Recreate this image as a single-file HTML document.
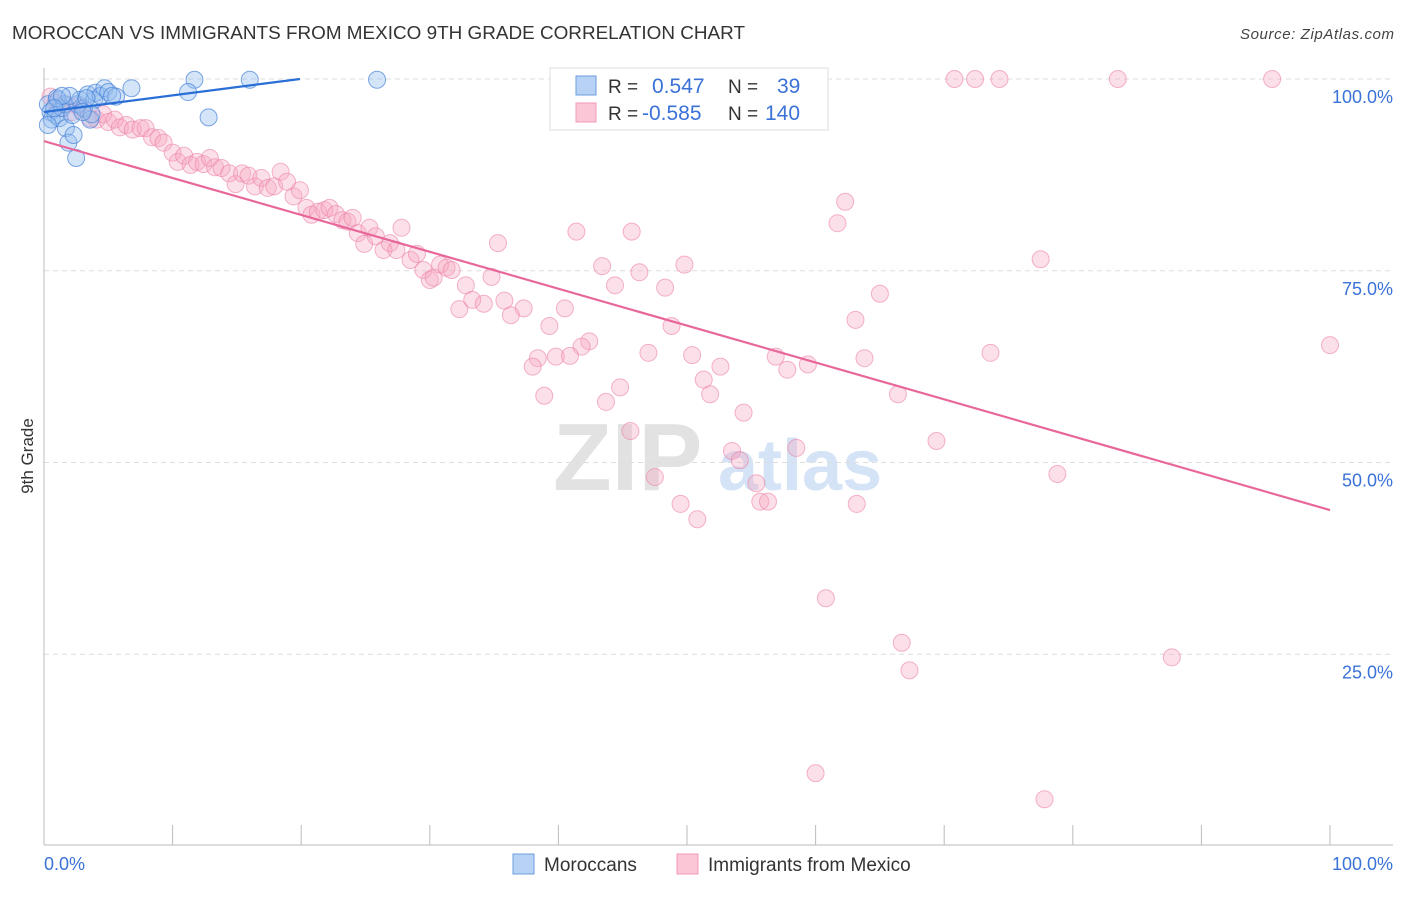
<!DOCTYPE html>
<html><head><meta charset="utf-8"><style>
body{margin:0;background:#fff;font-family:"Liberation Sans",sans-serif;}
svg text{font-family:"Liberation Sans",sans-serif;}
</style></head><body>
<svg id="chart" width="1406" height="892" xmlns="http://www.w3.org/2000/svg">
<text x="12" y="39" font-size="18.5" fill="#333" textLength="733" lengthAdjust="spacingAndGlyphs">MOROCCAN VS IMMIGRANTS FROM MEXICO 9TH GRADE CORRELATION CHART</text>
<text x="1394" y="39" font-size="15" fill="#444" font-style="italic" text-anchor="end" textLength="154">Source: ZipAtlas.com</text>
<g>
<text x="553" y="490" font-size="96" font-family="Liberation Serif" fill="#e2e2e2" font-weight="bold">ZIP</text>
<text x="718" y="490" font-size="72" fill="#d4e3f5" font-weight="bold">atlas</text>
</g>
<g id="grid"></g>
<line x1="44" y1="68" x2="44" y2="845" stroke="#bbb"/>
<line x1="44" y1="845" x2="1393" y2="845" stroke="#bbb"/>
<g id="ticks"></g>
<text transform="translate(33,456) rotate(-90)" font-size="17" fill="#333" text-anchor="middle">9th Grade</text>
<text x="44" y="870" font-size="18" fill="#3a72d8">0.0%</text>
<text x="1393" y="870" font-size="18" fill="#3a72d8" text-anchor="end">100.0%</text>
<g id="pink"></g>
<g id="blue"></g>
<g id="lines"></g>
<g>
<rect x="550" y="68" width="278" height="62" fill="#fff" stroke="#ddd"/>
<rect x="576" y="76" width="20" height="19" fill="#b8d2f5" stroke="#6b9de0"/>
<rect x="576" y="103" width="20" height="19" fill="#fbc6d6" stroke="#f09ab8"/>
<text x="608" y="93" font-size="19" fill="#333">R =</text>
<text x="652" y="93" font-size="21" fill="#3a72d8">0.547</text>
<text x="728" y="93" font-size="19" fill="#333">N =</text>
<text x="777" y="93" font-size="21" fill="#3a72d8">39</text>
<text x="608" y="120" font-size="19" fill="#333">R =</text>
<text x="642" y="120" font-size="21" fill="#3a72d8">-0.585</text>
<text x="728" y="120" font-size="19" fill="#333">N =</text>
<text x="765" y="120" font-size="21" fill="#3a72d8">140</text>
</g>
<g>
<rect x="513" y="854" width="21" height="20" fill="#b8d2f5" stroke="#6b9de0"/>
<text x="544" y="871" font-size="19" fill="#333">Moroccans</text>
<rect x="677" y="854" width="21" height="20" fill="#fbc6d6" stroke="#f09ab8"/>
<text x="708" y="871" font-size="19" fill="#333">Immigrants from Mexico</text>
</g>
</svg>
<script>
const yTicks=[25,50,75,100];
const yTickLabels=["25.0%","50.0%","75.0%","100.0%"];
const xTicks=[10,20,30,40,50,60,70,80,90,100];
const pinkX=[47.5,58.8,70.8,72.4,74.3,83.5,95.5,62.3,61.7,41.4,45.7,35.3,27.8,77.5,43.4,49.8,46.3,34.8,44.4,48.3,65.0,32.8,33.3,34.2,35.8,37.3,32.3,36.3,40.5,39.3,63.1,48.8,42.4,41.8,100,47.0,50.4,38.4,39.8,40.9,38.0,56.9,63.8,73.6,52.6,57.8,59.4,51.3,44.8,51.8,38.9,43.7,66.4,54.4,45.6,69.4,58.5,53.5,54.1,47.5,78.8,55.4,49.5,55.7,56.3,63.2,50.8,60.8,66.7,67.3,87.7,60.0,77.8,
0.5,0.9,1.2,1.7,2.2,2.6,3.1,3.6,4.1,4.6,5.0,5.5,5.9,6.4,6.9,7.5,7.9,8.4,8.9,9.3,10.0,10.4,10.9,11.4,11.9,12.4,12.9,13.3,13.8,14.4,14.9,15.4,15.9,16.4,16.9,17.4,17.9,18.4,18.9,19.4,19.9,20.4,20.8,21.3,21.8,22.2,22.7,23.2,23.6,24.0,24.4,24.9,25.3,25.8,26.4,26.9,27.4,28.5,29.0,29.5,30.0,30.3,30.8,31.3,31.7];
const pinkY=[100,100,100,100,100,100,100,84.0,81.2,80.1,80.1,78.6,80.6,76.5,75.6,75.8,74.8,74.2,73.1,72.8,72.0,73.1,71.2,70.7,71.1,70.1,70.0,69.2,70.1,67.8,68.6,67.8,65.8,65.1,65.3,64.3,64.0,63.6,63.8,63.9,62.5,63.8,63.6,64.3,62.5,62.1,62.8,60.8,59.8,58.9,58.7,57.9,58.9,56.5,54.1,52.8,51.9,51.5,50.3,48.1,48.5,47.3,44.6,44.9,44.9,44.6,42.6,32.3,26.5,22.9,24.6,9.5,6.1,
97.7,96.9,96.2,96.7,95.7,96.5,96.0,94.9,94.7,95.4,94.4,94.7,93.7,94.0,93.4,93.6,93.6,92.4,92.3,91.7,90.4,89.2,90.0,88.8,89.2,88.9,89.7,88.5,88.4,87.7,86.3,87.7,87.4,86.0,87.1,85.8,86.0,87.9,86.6,84.7,85.5,83.2,82.3,82.7,82.9,83.2,82.4,81.6,81.4,81.9,79.9,78.5,80.6,79.5,77.7,78.6,77.7,76.4,77.2,75.1,73.8,74.1,75.8,75.4,75.1];
const blueX=[0.3,0.5,0.6,0.9,1.1,1.2,1.4,1.6,1.7,1.9,2.2,2.3,2.5,2.6,2.8,3.1,3.4,3.6,3.9,4.0,4.4,4.7,5.0,5.6,6.8,11.7,11.2,12.8,16.0,25.9,1.0,0.3,2.0,3.3,3.7,1.4,0.8,3.0,5.3];
const blueY=[96.7,95.7,94.7,95.3,97.3,94.9,96.2,96.7,93.6,91.7,95.3,92.7,89.7,96.7,97.3,96.2,98.0,94.7,97.3,98.2,97.8,98.8,98.3,97.7,98.8,99.9,98.3,95.0,99.9,99.9,97.5,94.0,97.8,97.5,95.4,97.8,96.2,95.7,97.8];
const pinkTrend=[91.9,43.8];
const blueTrend=[95.7,100,19.9];
const NS="http://www.w3.org/2000/svg";
const X=v=>44+v*12.86, Y=v=>846-v*7.67;
function mk(t,a,p){const e=document.createElementNS(NS,t);for(const k in a)e.setAttribute(k,a[k]);p.appendChild(e);return e;}
const grid=document.getElementById('grid');
yTicks.forEach((t,i)=>{
 const l=mk('line',{x1:44,x2:1393,y1:Y(t),y2:Y(t),stroke:'#ddd','stroke-dasharray':'5,4'},grid);
 
 
 const tx=mk('text',{x:1393,y:Y(t)+24,'font-size':18,fill:'#3a72d8','text-anchor':'end'},grid);
 tx.textContent=yTickLabels[i];
 
 
});
const ticks=document.getElementById('ticks');
xTicks.forEach(t=>{
 const l=mk('line',{x1:X(t),x2:X(t),y1:825,y2:845,stroke:'#bbb'},ticks);
 
 
});
const pg=document.getElementById('pink');
pinkX.forEach((x,i)=>{
 const c=mk('circle',{cx:X(x),cy:Y(pinkY[i]),r:8.5,fill:'rgba(245,165,192,0.35)',stroke:'rgba(236,130,168,0.6)','stroke-width':1},pg);
 
 
});
const bg=document.getElementById('blue');
blueX.forEach((x,i)=>{
 const c=mk('circle',{cx:X(x),cy:Y(blueY[i]),r:8.5,fill:'rgba(150,190,240,0.4)',stroke:'rgba(70,130,215,0.7)','stroke-width':1},bg);
 
 
});
const lg=document.getElementById('lines');
const pl=mk('line',{x1:X(0),y1:Y(pinkTrend[0]),x2:X(100),y2:Y(pinkTrend[1]),stroke:'#e8679a','stroke-width':2.2},lg);


const bl=mk('line',{x1:X(0),y1:Y(blueTrend[0]),x2:X(blueTrend[2]),y2:Y(blueTrend[1]),stroke:'#2a6fd6','stroke-width':2.2},lg);


</script>
</body></html>
